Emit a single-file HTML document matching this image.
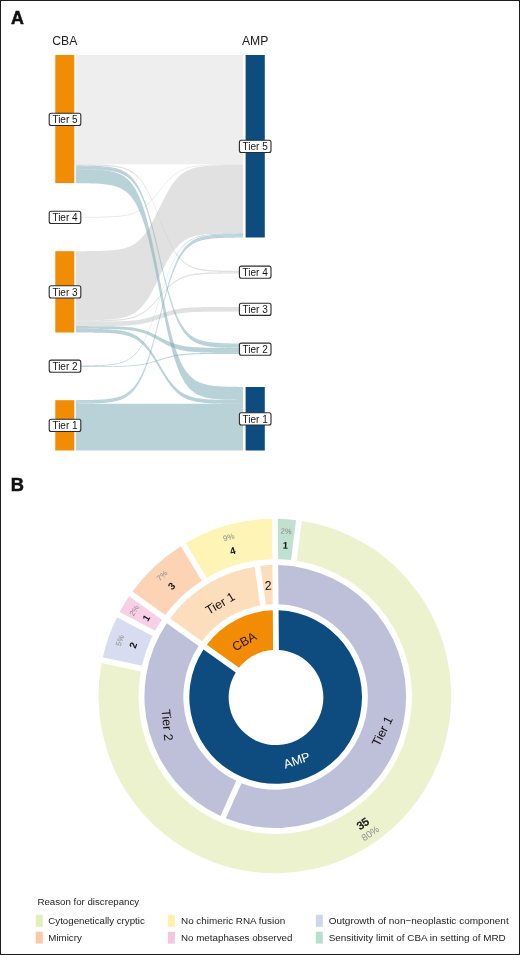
<!DOCTYPE html>
<html lang="en"><head><meta charset="utf-8"><title>Figure</title>
<style>
html,body{margin:0;padding:0;background:#fff;}
body{width:520px;height:955px;overflow:hidden;position:relative;font-family:"Liberation Sans", sans-serif;}
#frame{position:absolute;left:0;top:0;width:518px;height:953px;border:1px solid #1c1c1c;}
svg{position:absolute;left:0;top:0;display:block;}
</style></head><body>
<svg width="520" height="955" viewBox="0 0 520 955" font-family='"Liberation Sans", sans-serif'>
<g id="alluvial">
<path d="M75.80 55.00 L77.68 55.00 L79.56 55.00 L81.44 55.00 L83.31 55.00 L85.19 55.00 L87.07 55.00 L88.95 55.00 L90.83 55.00 L92.71 55.00 L94.59 55.00 L96.47 55.00 L98.34 55.00 L100.22 55.00 L102.10 55.00 L103.98 55.00 L105.86 55.00 L107.74 55.00 L109.62 55.00 L111.49 55.00 L113.37 55.00 L115.25 55.00 L117.13 55.00 L119.01 55.00 L120.89 55.00 L122.77 55.00 L124.64 55.00 L126.52 55.00 L128.40 55.00 L130.28 55.00 L132.16 55.00 L134.04 55.00 L135.92 55.00 L137.80 55.00 L139.67 55.00 L141.55 55.00 L143.43 55.00 L145.31 55.00 L147.19 55.00 L149.07 55.00 L150.95 55.00 L152.82 55.00 L154.70 55.00 L156.58 55.00 L158.46 55.00 L160.34 55.00 L162.22 55.00 L164.10 55.00 L165.98 55.00 L167.85 55.00 L169.73 55.00 L171.61 55.00 L173.49 55.00 L175.37 55.00 L177.25 55.00 L179.13 55.00 L181.00 55.00 L182.88 55.00 L184.76 55.00 L186.64 55.00 L188.52 55.00 L190.40 55.00 L192.28 55.00 L194.16 55.00 L196.03 55.00 L197.91 55.00 L199.79 55.00 L201.67 55.00 L203.55 55.00 L205.43 55.00 L207.31 55.00 L209.18 55.00 L211.06 55.00 L212.94 55.00 L214.82 55.00 L216.70 55.00 L218.58 55.00 L220.46 55.00 L222.33 55.00 L224.21 55.00 L226.09 55.00 L227.97 55.00 L229.85 55.00 L231.73 55.00 L233.61 55.00 L235.49 55.00 L237.36 55.00 L239.24 55.00 L241.12 55.00 L243.00 55.00 L243.00 164.20 L241.12 164.20 L239.24 164.20 L237.36 164.20 L235.49 164.20 L233.61 164.20 L231.73 164.20 L229.85 164.20 L227.97 164.20 L226.09 164.20 L224.21 164.20 L222.33 164.20 L220.46 164.20 L218.58 164.20 L216.70 164.20 L214.82 164.20 L212.94 164.20 L211.06 164.20 L209.18 164.20 L207.31 164.20 L205.43 164.20 L203.55 164.20 L201.67 164.20 L199.79 164.20 L197.91 164.20 L196.03 164.20 L194.16 164.20 L192.28 164.20 L190.40 164.20 L188.52 164.20 L186.64 164.20 L184.76 164.20 L182.88 164.20 L181.00 164.20 L179.13 164.20 L177.25 164.20 L175.37 164.20 L173.49 164.20 L171.61 164.20 L169.73 164.20 L167.85 164.20 L165.98 164.20 L164.10 164.20 L162.22 164.20 L160.34 164.20 L158.46 164.20 L156.58 164.20 L154.70 164.20 L152.82 164.20 L150.95 164.20 L149.07 164.20 L147.19 164.20 L145.31 164.20 L143.43 164.20 L141.55 164.20 L139.67 164.20 L137.80 164.20 L135.92 164.20 L134.04 164.20 L132.16 164.20 L130.28 164.20 L128.40 164.20 L126.52 164.20 L124.64 164.20 L122.77 164.20 L120.89 164.20 L119.01 164.20 L117.13 164.20 L115.25 164.20 L113.37 164.20 L111.49 164.20 L109.62 164.20 L107.74 164.20 L105.86 164.20 L103.98 164.20 L102.10 164.20 L100.22 164.20 L98.34 164.20 L96.47 164.20 L94.59 164.20 L92.71 164.20 L90.83 164.20 L88.95 164.20 L87.07 164.20 L85.19 164.20 L83.31 164.20 L81.44 164.20 L79.56 164.20 L77.68 164.20 L75.80 164.20Z" fill="rgba(200,198,200,0.29)"/>
<path d="M75.80 251.17 L77.68 251.17 L79.56 251.16 L81.44 251.15 L83.31 251.14 L85.19 251.13 L87.07 251.11 L88.95 251.10 L90.83 251.08 L92.71 251.05 L94.59 251.03 L96.47 250.99 L98.34 250.95 L100.22 250.90 L102.10 250.84 L103.98 250.77 L105.86 250.69 L107.74 250.59 L109.62 250.47 L111.49 250.33 L113.37 250.16 L115.25 249.96 L117.13 249.71 L119.01 249.43 L120.89 249.09 L122.77 248.68 L124.64 248.21 L126.52 247.64 L128.40 246.97 L130.28 246.19 L132.16 245.27 L134.04 244.20 L135.92 242.95 L137.80 241.51 L139.67 239.85 L141.55 237.96 L143.43 235.82 L145.31 233.41 L147.19 230.74 L149.07 227.80 L150.95 224.61 L152.82 221.19 L154.70 217.59 L156.58 213.83 L158.46 209.99 L160.34 206.11 L162.22 202.27 L164.10 198.51 L165.98 194.91 L167.85 191.49 L169.73 188.30 L171.61 185.36 L173.49 182.69 L175.37 180.28 L177.25 178.14 L179.13 176.25 L181.00 174.59 L182.88 173.15 L184.76 171.90 L186.64 170.83 L188.52 169.91 L190.40 169.13 L192.28 168.46 L194.16 167.89 L196.03 167.42 L197.91 167.01 L199.79 166.67 L201.67 166.39 L203.55 166.14 L205.43 165.94 L207.31 165.77 L209.18 165.63 L211.06 165.51 L212.94 165.41 L214.82 165.33 L216.70 165.26 L218.58 165.20 L220.46 165.15 L222.33 165.11 L224.21 165.07 L226.09 165.05 L227.97 165.02 L229.85 165.00 L231.73 164.99 L233.61 164.97 L235.49 164.96 L237.36 164.95 L239.24 164.94 L241.12 164.93 L243.00 164.93 L243.00 233.33 L241.12 233.33 L239.24 233.34 L237.36 233.35 L235.49 233.36 L233.61 233.37 L231.73 233.39 L229.85 233.40 L227.97 233.42 L226.09 233.45 L224.21 233.48 L222.33 233.51 L220.46 233.55 L218.58 233.60 L216.70 233.66 L214.82 233.73 L212.94 233.81 L211.06 233.92 L209.18 234.04 L207.31 234.18 L205.43 234.35 L203.55 234.55 L201.67 234.80 L199.79 235.09 L197.91 235.43 L196.03 235.84 L194.16 236.32 L192.28 236.89 L190.40 237.56 L188.52 238.35 L186.64 239.28 L184.76 240.36 L182.88 241.62 L181.00 243.07 L179.13 244.74 L177.25 246.65 L175.37 248.81 L173.49 251.23 L171.61 253.93 L169.73 256.89 L167.85 260.11 L165.98 263.55 L164.10 267.19 L162.22 270.97 L160.34 274.85 L158.46 278.75 L156.58 282.63 L154.70 286.41 L152.82 290.05 L150.95 293.49 L149.07 296.71 L147.19 299.67 L145.31 302.37 L143.43 304.79 L141.55 306.95 L139.67 308.86 L137.80 310.53 L135.92 311.98 L134.04 313.24 L132.16 314.32 L130.28 315.25 L128.40 316.04 L126.52 316.71 L124.64 317.28 L122.77 317.76 L120.89 318.17 L119.01 318.51 L117.13 318.80 L115.25 319.05 L113.37 319.25 L111.49 319.42 L109.62 319.56 L107.74 319.68 L105.86 319.79 L103.98 319.87 L102.10 319.94 L100.22 320.00 L98.34 320.05 L96.47 320.09 L94.59 320.12 L92.71 320.15 L90.83 320.18 L88.95 320.20 L87.07 320.21 L85.19 320.23 L83.31 320.24 L81.44 320.25 L79.56 320.26 L77.68 320.27 L75.80 320.27Z" fill="rgba(200,198,200,0.53)"/>
<path d="M75.80 216.78 L77.68 216.78 L79.56 216.77 L81.44 216.77 L83.31 216.76 L85.19 216.76 L87.07 216.75 L88.95 216.74 L90.83 216.73 L92.71 216.71 L94.59 216.69 L96.47 216.67 L98.34 216.65 L100.22 216.62 L102.10 216.58 L103.98 216.54 L105.86 216.49 L107.74 216.43 L109.62 216.36 L111.49 216.27 L113.37 216.16 L115.25 216.04 L117.13 215.89 L119.01 215.72 L120.89 215.51 L122.77 215.27 L124.64 214.98 L126.52 214.63 L128.40 214.22 L130.28 213.75 L132.16 213.19 L134.04 212.53 L135.92 211.77 L137.80 210.89 L139.67 209.88 L141.55 208.73 L143.43 207.42 L145.31 205.96 L147.19 204.33 L149.07 202.54 L150.95 200.59 L152.82 198.51 L154.70 196.31 L156.58 194.02 L158.46 191.68 L160.34 189.32 L162.22 186.98 L164.10 184.69 L165.98 182.49 L167.85 180.41 L169.73 178.46 L171.61 176.67 L173.49 175.04 L175.37 173.58 L177.25 172.27 L179.13 171.12 L181.00 170.11 L182.88 169.23 L184.76 168.47 L186.64 167.81 L188.52 167.25 L190.40 166.78 L192.28 166.37 L194.16 166.02 L196.03 165.73 L197.91 165.49 L199.79 165.28 L201.67 165.11 L203.55 164.96 L205.43 164.84 L207.31 164.73 L209.18 164.64 L211.06 164.57 L212.94 164.51 L214.82 164.46 L216.70 164.42 L218.58 164.38 L220.46 164.35 L222.33 164.33 L224.21 164.31 L226.09 164.29 L227.97 164.27 L229.85 164.26 L231.73 164.25 L233.61 164.24 L235.49 164.24 L237.36 164.23 L239.24 164.23 L241.12 164.22 L243.00 164.22 L243.00 164.92 L241.12 164.92 L239.24 164.93 L237.36 164.93 L235.49 164.94 L233.61 164.94 L231.73 164.95 L229.85 164.96 L227.97 164.97 L226.09 164.99 L224.21 165.01 L222.33 165.03 L220.46 165.05 L218.58 165.08 L216.70 165.12 L214.82 165.16 L212.94 165.21 L211.06 165.27 L209.18 165.35 L207.31 165.43 L205.43 165.54 L203.55 165.66 L201.67 165.81 L199.79 165.99 L197.91 166.19 L196.03 166.44 L194.16 166.74 L192.28 167.08 L190.40 167.49 L188.52 167.97 L186.64 168.53 L184.76 169.19 L182.88 169.96 L181.00 170.84 L179.13 171.86 L177.25 173.02 L175.37 174.33 L173.49 175.81 L171.61 177.44 L169.73 179.24 L167.85 181.20 L165.98 183.29 L164.10 185.50 L162.22 187.81 L160.34 190.16 L158.46 192.54 L156.58 194.89 L154.70 197.20 L152.82 199.41 L150.95 201.50 L149.07 203.46 L147.19 205.26 L145.31 206.89 L143.43 208.37 L141.55 209.68 L139.67 210.84 L137.80 211.86 L135.92 212.74 L134.04 213.51 L132.16 214.17 L130.28 214.73 L128.40 215.21 L126.52 215.62 L124.64 215.96 L122.77 216.26 L120.89 216.51 L119.01 216.71 L117.13 216.89 L115.25 217.04 L113.37 217.16 L111.49 217.27 L109.62 217.35 L107.74 217.43 L105.86 217.49 L103.98 217.54 L102.10 217.58 L100.22 217.62 L98.34 217.65 L96.47 217.67 L94.59 217.69 L92.71 217.71 L90.83 217.73 L88.95 217.74 L87.07 217.75 L85.19 217.76 L83.31 217.76 L81.44 217.77 L79.56 217.77 L77.68 217.78 L75.80 217.78Z" fill="rgba(200,198,200,0.40)"/>
<path d="M75.80 164.24 L77.68 164.24 L79.56 164.25 L81.44 164.26 L83.31 164.27 L85.19 164.29 L87.07 164.31 L88.95 164.33 L90.83 164.35 L92.71 164.38 L94.59 164.42 L96.47 164.46 L98.34 164.51 L100.22 164.57 L102.10 164.64 L103.98 164.73 L105.86 164.83 L107.74 164.96 L109.62 165.10 L111.49 165.28 L113.37 165.49 L115.25 165.74 L117.13 166.04 L119.01 166.39 L120.89 166.81 L122.77 167.31 L124.64 167.90 L126.52 168.60 L128.40 169.43 L130.28 170.39 L132.16 171.53 L134.04 172.86 L135.92 174.40 L137.80 176.18 L139.67 178.23 L141.55 180.57 L143.43 183.22 L145.31 186.20 L147.19 189.50 L149.07 193.13 L150.95 197.07 L152.82 201.30 L154.70 205.76 L156.58 210.40 L158.46 215.15 L160.34 219.95 L162.22 224.70 L164.10 229.34 L165.98 233.80 L167.85 238.03 L169.73 241.97 L171.61 245.60 L173.49 248.90 L175.37 251.88 L177.25 254.53 L179.13 256.87 L181.00 258.92 L182.88 260.70 L184.76 262.24 L186.64 263.57 L188.52 264.71 L190.40 265.67 L192.28 266.50 L194.16 267.20 L196.03 267.79 L197.91 268.29 L199.79 268.71 L201.67 269.06 L203.55 269.36 L205.43 269.61 L207.31 269.82 L209.18 270.00 L211.06 270.14 L212.94 270.27 L214.82 270.37 L216.70 270.46 L218.58 270.53 L220.46 270.59 L222.33 270.64 L224.21 270.68 L226.09 270.72 L227.97 270.75 L229.85 270.77 L231.73 270.79 L233.61 270.81 L235.49 270.83 L237.36 270.84 L239.24 270.85 L241.12 270.86 L243.00 270.86 L243.00 272.16 L241.12 272.16 L239.24 272.15 L237.36 272.14 L235.49 272.13 L233.61 272.11 L231.73 272.09 L229.85 272.07 L227.97 272.05 L226.09 272.02 L224.21 271.98 L222.33 271.94 L220.46 271.89 L218.58 271.83 L216.70 271.76 L214.82 271.67 L212.94 271.57 L211.06 271.44 L209.18 271.30 L207.31 271.12 L205.43 270.91 L203.55 270.66 L201.67 270.36 L199.79 270.01 L197.91 269.59 L196.03 269.09 L194.16 268.50 L192.28 267.80 L190.40 266.97 L188.52 266.01 L186.64 264.87 L184.76 263.54 L182.88 262.00 L181.00 260.22 L179.13 258.17 L177.25 255.83 L175.37 253.18 L173.49 250.20 L171.61 246.90 L169.73 243.27 L167.85 239.33 L165.98 235.10 L164.10 230.64 L162.22 226.00 L160.34 221.25 L158.46 216.45 L156.58 211.70 L154.70 207.06 L152.82 202.60 L150.95 198.37 L149.07 194.43 L147.19 190.80 L145.31 187.50 L143.43 184.52 L141.55 181.87 L139.67 179.53 L137.80 177.48 L135.92 175.70 L134.04 174.16 L132.16 172.83 L130.28 171.69 L128.40 170.73 L126.52 169.90 L124.64 169.20 L122.77 168.61 L120.89 168.11 L119.01 167.69 L117.13 167.34 L115.25 167.04 L113.37 166.79 L111.49 166.58 L109.62 166.40 L107.74 166.26 L105.86 166.13 L103.98 166.03 L102.10 165.94 L100.22 165.87 L98.34 165.81 L96.47 165.76 L94.59 165.72 L92.71 165.68 L90.83 165.65 L88.95 165.63 L87.07 165.61 L85.19 165.59 L83.31 165.57 L81.44 165.56 L79.56 165.55 L77.68 165.54 L75.80 165.54Z" fill="rgba(200,198,200,0.53)"/>
<path d="M75.80 320.28 L77.68 320.28 L79.56 320.28 L81.44 320.27 L83.31 320.27 L85.19 320.26 L87.07 320.25 L88.95 320.24 L90.83 320.23 L92.71 320.22 L94.59 320.20 L96.47 320.18 L98.34 320.16 L100.22 320.13 L102.10 320.10 L103.98 320.06 L105.86 320.02 L107.74 319.96 L109.62 319.89 L111.49 319.81 L113.37 319.72 L115.25 319.61 L117.13 319.47 L119.01 319.31 L120.89 319.12 L122.77 318.90 L124.64 318.63 L126.52 318.32 L128.40 317.94 L130.28 317.51 L132.16 317.00 L134.04 316.40 L135.92 315.70 L137.80 314.90 L139.67 313.97 L141.55 312.92 L143.43 311.73 L145.31 310.38 L147.19 308.89 L149.07 307.26 L150.95 305.48 L152.82 303.58 L154.70 301.57 L156.58 299.47 L158.46 297.33 L160.34 295.17 L162.22 293.03 L164.10 290.93 L165.98 288.92 L167.85 287.02 L169.73 285.24 L171.61 283.61 L173.49 282.12 L175.37 280.77 L177.25 279.58 L179.13 278.53 L181.00 277.60 L182.88 276.80 L184.76 276.10 L186.64 275.50 L188.52 274.99 L190.40 274.56 L192.28 274.18 L194.16 273.87 L196.03 273.60 L197.91 273.38 L199.79 273.19 L201.67 273.03 L203.55 272.89 L205.43 272.78 L207.31 272.69 L209.18 272.61 L211.06 272.54 L212.94 272.48 L214.82 272.44 L216.70 272.40 L218.58 272.37 L220.46 272.34 L222.33 272.32 L224.21 272.30 L226.09 272.28 L227.97 272.27 L229.85 272.26 L231.73 272.25 L233.61 272.24 L235.49 272.23 L237.36 272.23 L239.24 272.22 L241.12 272.22 L243.00 272.22 L243.00 273.52 L241.12 273.52 L239.24 273.52 L237.36 273.53 L235.49 273.53 L233.61 273.54 L231.73 273.55 L229.85 273.56 L227.97 273.57 L226.09 273.58 L224.21 273.60 L222.33 273.62 L220.46 273.64 L218.58 273.67 L216.70 273.70 L214.82 273.74 L212.94 273.78 L211.06 273.84 L209.18 273.91 L207.31 273.99 L205.43 274.08 L203.55 274.19 L201.67 274.33 L199.79 274.49 L197.91 274.68 L196.03 274.90 L194.16 275.17 L192.28 275.48 L190.40 275.86 L188.52 276.29 L186.64 276.80 L184.76 277.40 L182.88 278.10 L181.00 278.90 L179.13 279.83 L177.25 280.88 L175.37 282.07 L173.49 283.42 L171.61 284.91 L169.73 286.54 L167.85 288.32 L165.98 290.22 L164.10 292.23 L162.22 294.33 L160.34 296.47 L158.46 298.63 L156.58 300.77 L154.70 302.87 L152.82 304.88 L150.95 306.78 L149.07 308.56 L147.19 310.19 L145.31 311.68 L143.43 313.03 L141.55 314.22 L139.67 315.27 L137.80 316.20 L135.92 317.00 L134.04 317.70 L132.16 318.30 L130.28 318.81 L128.40 319.24 L126.52 319.62 L124.64 319.93 L122.77 320.20 L120.89 320.42 L119.01 320.61 L117.13 320.77 L115.25 320.91 L113.37 321.02 L111.49 321.11 L109.62 321.19 L107.74 321.26 L105.86 321.32 L103.98 321.36 L102.10 321.40 L100.22 321.43 L98.34 321.46 L96.47 321.48 L94.59 321.50 L92.71 321.52 L90.83 321.53 L88.95 321.54 L87.07 321.55 L85.19 321.56 L83.31 321.57 L81.44 321.57 L79.56 321.58 L77.68 321.58 L75.80 321.58Z" fill="rgba(200,198,200,0.53)"/>
<path d="M75.80 321.60 L77.68 321.59 L79.56 321.59 L81.44 321.59 L83.31 321.59 L85.19 321.59 L87.07 321.59 L88.95 321.58 L90.83 321.58 L92.71 321.58 L94.59 321.57 L96.47 321.56 L98.34 321.56 L100.22 321.55 L102.10 321.54 L103.98 321.53 L105.86 321.51 L107.74 321.50 L109.62 321.48 L111.49 321.45 L113.37 321.42 L115.25 321.39 L117.13 321.35 L119.01 321.30 L120.89 321.24 L122.77 321.17 L124.64 321.09 L126.52 320.99 L128.40 320.88 L130.28 320.75 L132.16 320.59 L134.04 320.41 L135.92 320.19 L137.80 319.95 L139.67 319.67 L141.55 319.34 L143.43 318.98 L145.31 318.57 L147.19 318.11 L149.07 317.61 L150.95 317.07 L152.82 316.49 L154.70 315.87 L156.58 315.24 L158.46 314.58 L160.34 313.92 L162.22 313.26 L164.10 312.63 L165.98 312.01 L167.85 311.43 L169.73 310.89 L171.61 310.39 L173.49 309.93 L175.37 309.52 L177.25 309.16 L179.13 308.83 L181.00 308.55 L182.88 308.31 L184.76 308.09 L186.64 307.91 L188.52 307.75 L190.40 307.62 L192.28 307.51 L194.16 307.41 L196.03 307.33 L197.91 307.26 L199.79 307.20 L201.67 307.15 L203.55 307.11 L205.43 307.08 L207.31 307.05 L209.18 307.02 L211.06 307.00 L212.94 306.99 L214.82 306.97 L216.70 306.96 L218.58 306.95 L220.46 306.94 L222.33 306.94 L224.21 306.93 L226.09 306.92 L227.97 306.92 L229.85 306.92 L231.73 306.91 L233.61 306.91 L235.49 306.91 L237.36 306.91 L239.24 306.91 L241.12 306.91 L243.00 306.90 L243.00 311.60 L241.12 311.61 L239.24 311.61 L237.36 311.61 L235.49 311.61 L233.61 311.61 L231.73 311.61 L229.85 311.62 L227.97 311.62 L226.09 311.62 L224.21 311.63 L222.33 311.64 L220.46 311.64 L218.58 311.65 L216.70 311.66 L214.82 311.67 L212.94 311.69 L211.06 311.70 L209.18 311.72 L207.31 311.75 L205.43 311.78 L203.55 311.81 L201.67 311.85 L199.79 311.90 L197.91 311.95 L196.03 312.02 L194.16 312.10 L192.28 312.20 L190.40 312.31 L188.52 312.44 L186.64 312.60 L184.76 312.78 L182.88 312.99 L181.00 313.23 L179.13 313.51 L177.25 313.82 L175.37 314.18 L173.49 314.59 L171.61 315.04 L169.73 315.53 L167.85 316.07 L165.98 316.64 L164.10 317.25 L162.22 317.88 L160.34 318.52 L158.46 319.18 L156.58 319.82 L154.70 320.45 L152.82 321.06 L150.95 321.63 L149.07 322.17 L147.19 322.66 L145.31 323.11 L143.43 323.52 L141.55 323.88 L139.67 324.19 L137.80 324.47 L135.92 324.71 L134.04 324.92 L132.16 325.10 L130.28 325.26 L128.40 325.39 L126.52 325.50 L124.64 325.60 L122.77 325.68 L120.89 325.75 L119.01 325.80 L117.13 325.85 L115.25 325.89 L113.37 325.92 L111.49 325.95 L109.62 325.98 L107.74 326.00 L105.86 326.01 L103.98 326.03 L102.10 326.04 L100.22 326.05 L98.34 326.06 L96.47 326.06 L94.59 326.07 L92.71 326.08 L90.83 326.08 L88.95 326.08 L87.07 326.09 L85.19 326.09 L83.31 326.09 L81.44 326.09 L79.56 326.09 L77.68 326.09 L75.80 326.10Z" fill="rgba(200,198,200,0.53)"/>
<path d="M75.80 165.56 L77.68 165.57 L79.56 165.59 L81.44 165.60 L83.31 165.62 L85.19 165.65 L87.07 165.68 L88.95 165.71 L90.83 165.75 L92.71 165.80 L94.59 165.86 L96.47 165.93 L98.34 166.02 L100.22 166.12 L102.10 166.24 L103.98 166.38 L105.86 166.55 L107.74 166.76 L109.62 167.01 L111.49 167.30 L113.37 167.65 L115.25 168.07 L117.13 168.56 L119.01 169.16 L120.89 169.86 L122.77 170.69 L124.64 171.68 L126.52 172.85 L128.40 174.22 L130.28 175.84 L132.16 177.74 L134.04 179.95 L135.92 182.52 L137.80 185.50 L139.67 188.92 L141.55 192.83 L143.43 197.25 L145.31 202.21 L147.19 207.73 L149.07 213.79 L150.95 220.37 L152.82 227.42 L154.70 234.87 L156.58 242.62 L158.46 250.55 L160.34 258.55 L162.22 266.48 L164.10 274.23 L165.98 281.68 L167.85 288.73 L169.73 295.31 L171.61 301.37 L173.49 306.89 L175.37 311.85 L177.25 316.27 L179.13 320.18 L181.00 323.60 L182.88 326.58 L184.76 329.15 L186.64 331.36 L188.52 333.26 L190.40 334.88 L192.28 336.25 L194.16 337.42 L196.03 338.41 L197.91 339.24 L199.79 339.94 L201.67 340.54 L203.55 341.03 L205.43 341.45 L207.31 341.80 L209.18 342.09 L211.06 342.34 L212.94 342.55 L214.82 342.72 L216.70 342.86 L218.58 342.98 L220.46 343.08 L222.33 343.17 L224.21 343.24 L226.09 343.30 L227.97 343.35 L229.85 343.39 L231.73 343.42 L233.61 343.45 L235.49 343.48 L237.36 343.50 L239.24 343.51 L241.12 343.53 L243.00 343.54 L243.00 344.84 L241.12 344.83 L239.24 344.81 L237.36 344.80 L235.49 344.78 L233.61 344.75 L231.73 344.72 L229.85 344.69 L227.97 344.65 L226.09 344.60 L224.21 344.54 L222.33 344.47 L220.46 344.38 L218.58 344.28 L216.70 344.16 L214.82 344.02 L212.94 343.84 L211.06 343.64 L209.18 343.39 L207.31 343.10 L205.43 342.75 L203.55 342.33 L201.67 341.83 L199.79 341.24 L197.91 340.54 L196.03 339.70 L194.16 338.71 L192.28 337.55 L190.40 336.17 L188.52 334.55 L186.64 332.65 L184.76 330.43 L182.88 327.86 L181.00 324.88 L179.13 321.45 L177.25 317.54 L175.37 313.11 L173.49 308.14 L171.61 302.62 L169.73 296.55 L167.85 289.96 L165.98 282.91 L164.10 275.45 L162.22 267.70 L160.34 259.75 L158.46 251.75 L156.58 243.80 L154.70 236.05 L152.82 228.59 L150.95 221.54 L149.07 214.95 L147.19 208.88 L145.31 203.36 L143.43 198.39 L141.55 193.96 L139.67 190.05 L137.80 186.62 L135.92 183.64 L134.04 181.07 L132.16 178.85 L130.28 176.95 L128.40 175.33 L126.52 173.95 L124.64 172.79 L122.77 171.80 L120.89 170.96 L119.01 170.26 L117.13 169.67 L115.25 169.17 L113.37 168.75 L111.49 168.40 L109.62 168.11 L107.74 167.86 L105.86 167.66 L103.98 167.48 L102.10 167.34 L100.22 167.22 L98.34 167.12 L96.47 167.03 L94.59 166.96 L92.71 166.90 L90.83 166.85 L88.95 166.81 L87.07 166.78 L85.19 166.75 L83.31 166.72 L81.44 166.70 L79.56 166.69 L77.68 166.67 L75.80 166.66Z" fill="rgba(115,165,175,0.50)"/>
<path d="M75.80 166.66 L77.68 166.67 L79.56 166.69 L81.44 166.70 L83.31 166.72 L85.19 166.75 L87.07 166.78 L88.95 166.81 L90.83 166.85 L92.71 166.90 L94.59 166.96 L96.47 167.03 L98.34 167.12 L100.22 167.22 L102.10 167.34 L103.98 167.48 L105.86 167.66 L107.74 167.86 L109.62 168.11 L111.49 168.40 L113.37 168.75 L115.25 169.17 L117.13 169.67 L119.01 170.26 L120.89 170.96 L122.77 171.80 L124.64 172.79 L126.52 173.95 L128.40 175.33 L130.28 176.95 L132.16 178.85 L134.04 181.07 L135.92 183.64 L137.80 186.62 L139.67 190.05 L141.55 193.96 L143.43 198.39 L145.31 203.36 L147.19 208.88 L149.07 214.95 L150.95 221.54 L152.82 228.59 L154.70 236.05 L156.58 243.80 L158.46 251.75 L160.34 259.75 L162.22 267.70 L164.10 275.45 L165.98 282.91 L167.85 289.96 L169.73 296.55 L171.61 302.62 L173.49 308.14 L175.37 313.11 L177.25 317.54 L179.13 321.45 L181.00 324.88 L182.88 327.86 L184.76 330.43 L186.64 332.65 L188.52 334.55 L190.40 336.17 L192.28 337.55 L194.16 338.71 L196.03 339.70 L197.91 340.54 L199.79 341.24 L201.67 341.83 L203.55 342.33 L205.43 342.75 L207.31 343.10 L209.18 343.39 L211.06 343.64 L212.94 343.84 L214.82 344.02 L216.70 344.16 L218.58 344.28 L220.46 344.38 L222.33 344.47 L224.21 344.54 L226.09 344.60 L227.97 344.65 L229.85 344.69 L231.73 344.72 L233.61 344.75 L235.49 344.78 L237.36 344.80 L239.24 344.81 L241.12 344.83 L243.00 344.84 L243.00 347.84 L241.12 347.83 L239.24 347.81 L237.36 347.80 L235.49 347.78 L233.61 347.75 L231.73 347.72 L229.85 347.69 L227.97 347.65 L226.09 347.60 L224.21 347.54 L222.33 347.47 L220.46 347.38 L218.58 347.28 L216.70 347.16 L214.82 347.02 L212.94 346.84 L211.06 346.64 L209.18 346.39 L207.31 346.09 L205.43 345.74 L203.55 345.32 L201.67 344.82 L199.79 344.23 L197.91 343.53 L196.03 342.69 L194.16 341.70 L192.28 340.53 L190.40 339.15 L188.52 337.53 L186.64 335.62 L184.76 333.40 L182.88 330.82 L181.00 327.83 L179.13 324.40 L177.25 320.48 L175.37 316.04 L173.49 311.06 L171.61 305.53 L169.73 299.44 L167.85 292.84 L165.98 285.77 L164.10 278.30 L162.22 270.52 L160.34 262.56 L158.46 254.54 L156.58 246.58 L154.70 238.80 L152.82 231.33 L150.95 224.26 L149.07 217.66 L147.19 211.57 L145.31 206.04 L143.43 201.06 L141.55 196.62 L139.67 192.70 L137.80 189.27 L135.92 186.28 L134.04 183.70 L132.16 181.48 L130.28 179.57 L128.40 177.95 L126.52 176.57 L124.64 175.40 L122.77 174.41 L120.89 173.57 L119.01 172.87 L117.13 172.28 L115.25 171.78 L113.37 171.36 L111.49 171.01 L109.62 170.71 L107.74 170.46 L105.86 170.26 L103.98 170.08 L102.10 169.94 L100.22 169.82 L98.34 169.72 L96.47 169.63 L94.59 169.56 L92.71 169.50 L90.83 169.45 L88.95 169.41 L87.07 169.38 L85.19 169.35 L83.31 169.32 L81.44 169.30 L79.56 169.29 L77.68 169.27 L75.80 169.26Z" fill="rgba(115,165,175,0.50)"/>
<path d="M75.80 169.27 L77.68 169.29 L79.56 169.30 L81.44 169.33 L83.31 169.35 L85.19 169.38 L87.07 169.41 L88.95 169.46 L90.83 169.51 L92.71 169.57 L94.59 169.64 L96.47 169.73 L98.34 169.83 L100.22 169.95 L102.10 170.10 L103.98 170.28 L105.86 170.49 L107.74 170.74 L109.62 171.04 L111.49 171.40 L113.37 171.83 L115.25 172.34 L117.13 172.95 L119.01 173.67 L120.89 174.53 L122.77 175.55 L124.64 176.76 L126.52 178.18 L128.40 179.87 L130.28 181.84 L132.16 184.16 L134.04 186.87 L135.92 190.02 L137.80 193.66 L139.67 197.84 L141.55 202.62 L143.43 208.03 L145.31 214.10 L147.19 220.84 L149.07 228.26 L150.95 236.31 L152.82 244.93 L154.70 254.03 L156.58 263.51 L158.46 273.21 L160.34 282.99 L162.22 292.69 L164.10 302.17 L165.98 311.27 L167.85 319.89 L169.73 327.94 L171.61 335.36 L173.49 342.10 L175.37 348.17 L177.25 353.58 L179.13 358.36 L181.00 362.54 L182.88 366.18 L184.76 369.33 L186.64 372.04 L188.52 374.36 L190.40 376.33 L192.28 378.02 L194.16 379.44 L196.03 380.65 L197.91 381.67 L199.79 382.53 L201.67 383.25 L203.55 383.86 L205.43 384.37 L207.31 384.80 L209.18 385.16 L211.06 385.46 L212.94 385.71 L214.82 385.92 L216.70 386.10 L218.58 386.25 L220.46 386.37 L222.33 386.47 L224.21 386.56 L226.09 386.63 L227.97 386.69 L229.85 386.74 L231.73 386.79 L233.61 386.82 L235.49 386.85 L237.36 386.87 L239.24 386.90 L241.12 386.91 L243.00 386.93 L243.00 399.93 L241.12 399.91 L239.24 399.90 L237.36 399.88 L235.49 399.85 L233.61 399.82 L231.73 399.79 L229.85 399.74 L227.97 399.69 L226.09 399.63 L224.21 399.56 L222.33 399.48 L220.46 399.37 L218.58 399.25 L216.70 399.10 L214.82 398.93 L212.94 398.72 L211.06 398.47 L209.18 398.17 L207.31 397.81 L205.43 397.38 L203.55 396.87 L201.67 396.27 L199.79 395.55 L197.91 394.69 L196.03 393.68 L194.16 392.47 L192.28 391.05 L190.40 389.38 L188.52 387.41 L186.64 385.10 L184.76 382.40 L182.88 379.27 L181.00 375.64 L179.13 371.47 L177.25 366.72 L175.37 361.33 L173.49 355.29 L171.61 348.57 L169.73 341.19 L167.85 333.17 L165.98 324.59 L164.10 315.52 L162.22 306.08 L160.34 296.42 L158.46 286.68 L156.58 277.02 L154.70 267.58 L152.82 258.51 L150.95 249.93 L149.07 241.91 L147.19 234.53 L145.31 227.81 L143.43 221.77 L141.55 216.38 L139.67 211.63 L137.80 207.46 L135.92 203.83 L134.04 200.70 L132.16 198.00 L130.28 195.69 L128.40 193.72 L126.52 192.05 L124.64 190.63 L122.77 189.42 L120.89 188.41 L119.01 187.55 L117.13 186.83 L115.25 186.23 L113.37 185.72 L111.49 185.29 L109.62 184.93 L107.74 184.63 L105.86 184.38 L103.98 184.17 L102.10 184.00 L100.22 183.85 L98.34 183.73 L96.47 183.62 L94.59 183.54 L92.71 183.47 L90.83 183.41 L88.95 183.36 L87.07 183.31 L85.19 183.28 L83.31 183.25 L81.44 183.22 L79.56 183.20 L77.68 183.19 L75.80 183.17Z" fill="rgba(115,165,175,0.50)"/>
<path d="M75.80 326.11 L77.68 326.11 L79.56 326.11 L81.44 326.11 L83.31 326.12 L85.19 326.12 L87.07 326.12 L88.95 326.13 L90.83 326.13 L92.71 326.14 L94.59 326.14 L96.47 326.15 L98.34 326.16 L100.22 326.18 L102.10 326.19 L103.98 326.21 L105.86 326.23 L107.74 326.25 L109.62 326.28 L111.49 326.32 L113.37 326.36 L115.25 326.41 L117.13 326.48 L119.01 326.55 L120.89 326.63 L122.77 326.74 L124.64 326.86 L126.52 327.00 L128.40 327.17 L130.28 327.37 L132.16 327.60 L134.04 327.87 L135.92 328.18 L137.80 328.55 L139.67 328.97 L141.55 329.45 L143.43 329.99 L145.31 330.59 L147.19 331.27 L149.07 332.01 L150.95 332.82 L152.82 333.68 L154.70 334.59 L156.58 335.54 L158.46 336.51 L160.34 337.49 L162.22 338.46 L164.10 339.41 L165.98 340.32 L167.85 341.18 L169.73 341.99 L171.61 342.73 L173.49 343.41 L175.37 344.01 L177.25 344.55 L179.13 345.03 L181.00 345.45 L182.88 345.82 L184.76 346.13 L186.64 346.40 L188.52 346.63 L190.40 346.83 L192.28 347.00 L194.16 347.14 L196.03 347.26 L197.91 347.37 L199.79 347.45 L201.67 347.52 L203.55 347.59 L205.43 347.64 L207.31 347.68 L209.18 347.72 L211.06 347.75 L212.94 347.77 L214.82 347.79 L216.70 347.81 L218.58 347.82 L220.46 347.84 L222.33 347.85 L224.21 347.86 L226.09 347.86 L227.97 347.87 L229.85 347.87 L231.73 347.88 L233.61 347.88 L235.49 347.88 L237.36 347.89 L239.24 347.89 L241.12 347.89 L243.00 347.89 L243.00 352.79 L241.12 352.79 L239.24 352.79 L237.36 352.79 L235.49 352.78 L233.61 352.78 L231.73 352.78 L229.85 352.77 L227.97 352.77 L226.09 352.76 L224.21 352.75 L222.33 352.74 L220.46 352.73 L218.58 352.72 L216.70 352.70 L214.82 352.68 L212.94 352.66 L211.06 352.63 L209.18 352.60 L207.31 352.56 L205.43 352.51 L203.55 352.45 L201.67 352.39 L199.79 352.31 L197.91 352.21 L196.03 352.10 L194.16 351.97 L192.28 351.81 L190.40 351.62 L188.52 351.41 L186.64 351.15 L184.76 350.85 L182.88 350.51 L181.00 350.10 L179.13 349.64 L177.25 349.12 L175.37 348.52 L173.49 347.85 L171.61 347.11 L169.73 346.29 L167.85 345.41 L165.98 344.46 L164.10 343.45 L162.22 342.41 L160.34 341.34 L158.46 340.26 L156.58 339.19 L154.70 338.15 L152.82 337.14 L150.95 336.19 L149.07 335.31 L147.19 334.49 L145.31 333.75 L143.43 333.08 L141.55 332.48 L139.67 331.96 L137.80 331.50 L135.92 331.09 L134.04 330.75 L132.16 330.45 L130.28 330.19 L128.40 329.98 L126.52 329.79 L124.64 329.63 L122.77 329.50 L120.89 329.39 L119.01 329.29 L117.13 329.21 L115.25 329.15 L113.37 329.09 L111.49 329.04 L109.62 329.00 L107.74 328.97 L105.86 328.94 L103.98 328.92 L102.10 328.90 L100.22 328.88 L98.34 328.87 L96.47 328.86 L94.59 328.85 L92.71 328.84 L90.83 328.83 L88.95 328.83 L87.07 328.82 L85.19 328.82 L83.31 328.82 L81.44 328.81 L79.56 328.81 L77.68 328.81 L75.80 328.81Z" fill="rgba(115,165,175,0.50)"/>
<path d="M75.80 328.82 L77.68 328.83 L79.56 328.83 L81.44 328.84 L83.31 328.85 L85.19 328.86 L87.07 328.87 L88.95 328.88 L90.83 328.90 L92.71 328.92 L94.59 328.94 L96.47 328.97 L98.34 329.01 L100.22 329.05 L102.10 329.09 L103.98 329.15 L105.86 329.22 L107.74 329.30 L109.62 329.40 L111.49 329.52 L113.37 329.66 L115.25 329.83 L117.13 330.03 L119.01 330.26 L120.89 330.54 L122.77 330.88 L124.64 331.27 L126.52 331.74 L128.40 332.29 L130.28 332.93 L132.16 333.69 L134.04 334.58 L135.92 335.61 L137.80 336.80 L139.67 338.16 L141.55 339.72 L143.43 341.49 L145.31 343.48 L147.19 345.68 L149.07 348.11 L150.95 350.74 L152.82 353.56 L154.70 356.53 L156.58 359.63 L158.46 362.80 L160.34 366.00 L162.22 369.17 L164.10 372.27 L165.98 375.24 L167.85 378.06 L169.73 380.69 L171.61 383.12 L173.49 385.32 L175.37 387.31 L177.25 389.08 L179.13 390.64 L181.00 392.00 L182.88 393.19 L184.76 394.22 L186.64 395.11 L188.52 395.87 L190.40 396.51 L192.28 397.06 L194.16 397.53 L196.03 397.92 L197.91 398.26 L199.79 398.54 L201.67 398.77 L203.55 398.97 L205.43 399.14 L207.31 399.28 L209.18 399.40 L211.06 399.50 L212.94 399.58 L214.82 399.65 L216.70 399.71 L218.58 399.75 L220.46 399.79 L222.33 399.83 L224.21 399.86 L226.09 399.88 L227.97 399.90 L229.85 399.92 L231.73 399.93 L233.61 399.94 L235.49 399.95 L237.36 399.96 L239.24 399.97 L241.12 399.97 L243.00 399.98 L243.00 403.78 L241.12 403.77 L239.24 403.77 L237.36 403.76 L235.49 403.75 L233.61 403.74 L231.73 403.73 L229.85 403.72 L227.97 403.70 L226.09 403.68 L224.21 403.66 L222.33 403.63 L220.46 403.59 L218.58 403.55 L216.70 403.50 L214.82 403.45 L212.94 403.38 L211.06 403.30 L209.18 403.20 L207.31 403.08 L205.43 402.94 L203.55 402.77 L201.67 402.57 L199.79 402.34 L197.91 402.06 L196.03 401.72 L194.16 401.33 L192.28 400.86 L190.40 400.31 L188.52 399.66 L186.64 398.90 L184.76 398.01 L182.88 396.98 L181.00 395.79 L179.13 394.42 L177.25 392.86 L175.37 391.09 L173.49 389.10 L171.61 386.89 L169.73 384.47 L167.85 381.83 L165.98 379.01 L164.10 376.03 L162.22 372.93 L160.34 369.75 L158.46 366.55 L156.58 363.37 L154.70 360.27 L152.82 357.29 L150.95 354.47 L149.07 351.83 L147.19 349.41 L145.31 347.20 L143.43 345.21 L141.55 343.44 L139.67 341.88 L137.80 340.51 L135.92 339.32 L134.04 338.29 L132.16 337.40 L130.28 336.64 L128.40 335.99 L126.52 335.44 L124.64 334.97 L122.77 334.58 L120.89 334.24 L119.01 333.96 L117.13 333.73 L115.25 333.53 L113.37 333.36 L111.49 333.22 L109.62 333.10 L107.74 333.00 L105.86 332.92 L103.98 332.85 L102.10 332.80 L100.22 332.75 L98.34 332.71 L96.47 332.67 L94.59 332.64 L92.71 332.62 L90.83 332.60 L88.95 332.58 L87.07 332.57 L85.19 332.56 L83.31 332.55 L81.44 332.54 L79.56 332.53 L77.68 332.53 L75.80 332.52Z" fill="rgba(115,165,175,0.50)"/>
<path d="M75.80 365.56 L77.68 365.55 L79.56 365.54 L81.44 365.52 L83.31 365.51 L85.19 365.49 L87.07 365.47 L88.95 365.44 L90.83 365.41 L92.71 365.38 L94.59 365.33 L96.47 365.28 L98.34 365.22 L100.22 365.14 L102.10 365.05 L103.98 364.95 L105.86 364.82 L107.74 364.66 L109.62 364.48 L111.49 364.26 L113.37 364.00 L115.25 363.69 L117.13 363.32 L119.01 362.88 L120.89 362.36 L122.77 361.74 L124.64 361.01 L126.52 360.14 L128.40 359.12 L130.28 357.92 L132.16 356.51 L134.04 354.87 L135.92 352.95 L137.80 350.74 L139.67 348.20 L141.55 345.30 L143.43 342.01 L145.31 338.33 L147.19 334.23 L149.07 329.73 L150.95 324.84 L152.82 319.60 L154.70 314.07 L156.58 308.32 L158.46 302.42 L160.34 296.48 L162.22 290.58 L164.10 284.83 L165.98 279.30 L167.85 274.06 L169.73 269.17 L171.61 264.67 L173.49 260.57 L175.37 256.89 L177.25 253.60 L179.13 250.70 L181.00 248.16 L182.88 245.95 L184.76 244.03 L186.64 242.39 L188.52 240.98 L190.40 239.78 L192.28 238.76 L194.16 237.89 L196.03 237.16 L197.91 236.54 L199.79 236.02 L201.67 235.58 L203.55 235.21 L205.43 234.90 L207.31 234.64 L209.18 234.42 L211.06 234.24 L212.94 234.08 L214.82 233.95 L216.70 233.85 L218.58 233.76 L220.46 233.68 L222.33 233.62 L224.21 233.57 L226.09 233.52 L227.97 233.49 L229.85 233.46 L231.73 233.43 L233.61 233.41 L235.49 233.39 L237.36 233.38 L239.24 233.36 L241.12 233.35 L243.00 233.34 L243.00 234.04 L241.12 234.05 L239.24 234.06 L237.36 234.08 L235.49 234.09 L233.61 234.11 L231.73 234.13 L229.85 234.16 L227.97 234.19 L226.09 234.22 L224.21 234.27 L222.33 234.32 L220.46 234.38 L218.58 234.46 L216.70 234.55 L214.82 234.65 L212.94 234.78 L211.06 234.94 L209.18 235.12 L207.31 235.34 L205.43 235.60 L203.55 235.91 L201.67 236.28 L199.79 236.72 L197.91 237.24 L196.03 237.86 L194.16 238.59 L192.28 239.46 L190.40 240.48 L188.52 241.68 L186.64 243.09 L184.76 244.73 L182.88 246.65 L181.00 248.86 L179.13 251.40 L177.25 254.30 L175.37 257.59 L173.49 261.27 L171.61 265.37 L169.73 269.87 L167.85 274.76 L165.98 280.00 L164.10 285.53 L162.22 291.28 L160.34 297.18 L158.46 303.12 L156.58 309.02 L154.70 314.77 L152.82 320.30 L150.95 325.54 L149.07 330.43 L147.19 334.93 L145.31 339.03 L143.43 342.71 L141.55 346.00 L139.67 348.90 L137.80 351.44 L135.92 353.65 L134.04 355.57 L132.16 357.21 L130.28 358.62 L128.40 359.82 L126.52 360.84 L124.64 361.71 L122.77 362.44 L120.89 363.06 L119.01 363.58 L117.13 364.02 L115.25 364.39 L113.37 364.70 L111.49 364.96 L109.62 365.18 L107.74 365.36 L105.86 365.52 L103.98 365.65 L102.10 365.75 L100.22 365.84 L98.34 365.92 L96.47 365.98 L94.59 366.03 L92.71 366.08 L90.83 366.11 L88.95 366.14 L87.07 366.17 L85.19 366.19 L83.31 366.21 L81.44 366.22 L79.56 366.24 L77.68 366.25 L75.80 366.26Z" fill="rgba(115,165,175,0.50)"/>
<path d="M75.80 366.30 L77.68 366.29 L79.56 366.29 L81.44 366.29 L83.31 366.29 L85.19 366.29 L87.07 366.29 L88.95 366.28 L90.83 366.28 L92.71 366.28 L94.59 366.27 L96.47 366.27 L98.34 366.26 L100.22 366.25 L102.10 366.24 L103.98 366.23 L105.86 366.22 L107.74 366.20 L109.62 366.19 L111.49 366.16 L113.37 366.14 L115.25 366.11 L117.13 366.07 L119.01 366.02 L120.89 365.97 L122.77 365.91 L124.64 365.83 L126.52 365.74 L128.40 365.64 L130.28 365.52 L132.16 365.37 L134.04 365.20 L135.92 365.01 L137.80 364.78 L139.67 364.52 L141.55 364.23 L143.43 363.89 L145.31 363.52 L147.19 363.10 L149.07 362.64 L150.95 362.14 L152.82 361.61 L154.70 361.04 L156.58 360.45 L158.46 359.85 L160.34 359.25 L162.22 358.65 L164.10 358.06 L165.98 357.49 L167.85 356.96 L169.73 356.46 L171.61 356.00 L173.49 355.58 L175.37 355.21 L177.25 354.87 L179.13 354.58 L181.00 354.32 L182.88 354.09 L184.76 353.90 L186.64 353.73 L188.52 353.58 L190.40 353.46 L192.28 353.36 L194.16 353.27 L196.03 353.19 L197.91 353.13 L199.79 353.08 L201.67 353.03 L203.55 352.99 L205.43 352.96 L207.31 352.94 L209.18 352.91 L211.06 352.90 L212.94 352.88 L214.82 352.87 L216.70 352.86 L218.58 352.85 L220.46 352.84 L222.33 352.83 L224.21 352.83 L226.09 352.82 L227.97 352.82 L229.85 352.82 L231.73 352.81 L233.61 352.81 L235.49 352.81 L237.36 352.81 L239.24 352.81 L241.12 352.81 L243.00 352.80 L243.00 353.90 L241.12 353.91 L239.24 353.91 L237.36 353.91 L235.49 353.91 L233.61 353.91 L231.73 353.91 L229.85 353.92 L227.97 353.92 L226.09 353.92 L224.21 353.93 L222.33 353.93 L220.46 353.94 L218.58 353.95 L216.70 353.95 L214.82 353.96 L212.94 353.98 L211.06 353.99 L209.18 354.01 L207.31 354.03 L205.43 354.06 L203.55 354.09 L201.67 354.13 L199.79 354.17 L197.91 354.22 L196.03 354.28 L194.16 354.35 L192.28 354.44 L190.40 354.54 L188.52 354.66 L186.64 354.80 L184.76 354.96 L182.88 355.15 L181.00 355.37 L179.13 355.62 L177.25 355.91 L175.37 356.24 L173.49 356.60 L171.61 357.01 L169.73 357.45 L167.85 357.94 L165.98 358.45 L164.10 359.00 L162.22 359.57 L160.34 360.16 L158.46 360.74 L156.58 361.33 L154.70 361.90 L152.82 362.45 L150.95 362.96 L149.07 363.45 L147.19 363.89 L145.31 364.30 L143.43 364.66 L141.55 364.99 L139.67 365.28 L137.80 365.53 L135.92 365.75 L134.04 365.94 L132.16 366.10 L130.28 366.24 L128.40 366.36 L126.52 366.46 L124.64 366.55 L122.77 366.62 L120.89 366.68 L119.01 366.73 L117.13 366.77 L115.25 366.81 L113.37 366.84 L111.49 366.87 L109.62 366.89 L107.74 366.91 L105.86 366.92 L103.98 366.94 L102.10 366.95 L100.22 366.95 L98.34 366.96 L96.47 366.97 L94.59 366.97 L92.71 366.98 L90.83 366.98 L88.95 366.98 L87.07 366.99 L85.19 366.99 L83.31 366.99 L81.44 366.99 L79.56 366.99 L77.68 366.99 L75.80 367.00Z" fill="rgba(115,165,175,0.50)"/>
<path d="M75.80 400.14 L77.68 400.13 L79.56 400.12 L81.44 400.10 L83.31 400.09 L85.19 400.06 L87.07 400.04 L88.95 400.00 L90.83 399.97 L92.71 399.92 L94.59 399.86 L96.47 399.80 L98.34 399.72 L100.22 399.62 L102.10 399.51 L103.98 399.38 L105.86 399.22 L107.74 399.02 L109.62 398.79 L111.49 398.52 L113.37 398.19 L115.25 397.80 L117.13 397.34 L119.01 396.79 L120.89 396.13 L122.77 395.35 L124.64 394.43 L126.52 393.34 L128.40 392.06 L130.28 390.55 L132.16 388.78 L134.04 386.71 L135.92 384.31 L137.80 381.54 L139.67 378.34 L141.55 374.70 L143.43 370.57 L145.31 365.94 L147.19 360.79 L149.07 355.13 L150.95 348.99 L152.82 342.41 L154.70 335.47 L156.58 328.24 L158.46 320.83 L160.34 313.37 L162.22 305.96 L164.10 298.73 L165.98 291.79 L167.85 285.21 L169.73 279.07 L171.61 273.41 L173.49 268.26 L175.37 263.63 L177.25 259.50 L179.13 255.86 L181.00 252.66 L182.88 249.89 L184.76 247.49 L186.64 245.42 L188.52 243.65 L190.40 242.14 L192.28 240.86 L194.16 239.77 L196.03 238.85 L197.91 238.07 L199.79 237.41 L201.67 236.86 L203.55 236.40 L205.43 236.01 L207.31 235.68 L209.18 235.41 L211.06 235.18 L212.94 234.98 L214.82 234.82 L216.70 234.69 L218.58 234.58 L220.46 234.48 L222.33 234.40 L224.21 234.34 L226.09 234.28 L227.97 234.23 L229.85 234.20 L231.73 234.16 L233.61 234.14 L235.49 234.11 L237.36 234.10 L239.24 234.08 L241.12 234.07 L243.00 234.06 L243.00 235.26 L241.12 235.27 L239.24 235.28 L237.36 235.30 L235.49 235.31 L233.61 235.34 L231.73 235.36 L229.85 235.40 L227.97 235.43 L226.09 235.48 L224.21 235.54 L222.33 235.60 L220.46 235.68 L218.58 235.78 L216.70 235.89 L214.82 236.02 L212.94 236.18 L211.06 236.38 L209.18 236.61 L207.31 236.88 L205.43 237.21 L203.55 237.60 L201.67 238.06 L199.79 238.61 L197.91 239.27 L196.03 240.05 L194.16 240.97 L192.28 242.06 L190.40 243.34 L188.52 244.85 L186.64 246.62 L184.76 248.69 L182.88 251.09 L181.00 253.86 L179.13 257.06 L177.25 260.70 L175.37 264.83 L173.49 269.46 L171.61 274.61 L169.73 280.27 L167.85 286.41 L165.98 292.99 L164.10 299.93 L162.22 307.16 L160.34 314.57 L158.46 322.03 L156.58 329.44 L154.70 336.67 L152.82 343.61 L150.95 350.19 L149.07 356.33 L147.19 361.99 L145.31 367.14 L143.43 371.77 L141.55 375.90 L139.67 379.54 L137.80 382.74 L135.92 385.51 L134.04 387.91 L132.16 389.98 L130.28 391.75 L128.40 393.26 L126.52 394.54 L124.64 395.63 L122.77 396.55 L120.89 397.33 L119.01 397.99 L117.13 398.54 L115.25 399.00 L113.37 399.39 L111.49 399.72 L109.62 399.99 L107.74 400.22 L105.86 400.42 L103.98 400.58 L102.10 400.71 L100.22 400.82 L98.34 400.92 L96.47 401.00 L94.59 401.06 L92.71 401.12 L90.83 401.17 L88.95 401.20 L87.07 401.24 L85.19 401.26 L83.31 401.29 L81.44 401.30 L79.56 401.32 L77.68 401.33 L75.80 401.34Z" fill="rgba(115,165,175,0.50)"/>
<path d="M75.80 401.34 L77.68 401.33 L79.56 401.32 L81.44 401.30 L83.31 401.29 L85.19 401.26 L87.07 401.24 L88.95 401.20 L90.83 401.17 L92.71 401.12 L94.59 401.06 L96.47 401.00 L98.34 400.92 L100.22 400.82 L102.10 400.71 L103.98 400.58 L105.86 400.42 L107.74 400.22 L109.62 399.99 L111.49 399.72 L113.37 399.39 L115.25 399.00 L117.13 398.54 L119.01 397.99 L120.89 397.33 L122.77 396.55 L124.64 395.63 L126.52 394.54 L128.40 393.26 L130.28 391.75 L132.16 389.98 L134.04 387.91 L135.92 385.51 L137.80 382.74 L139.67 379.54 L141.55 375.90 L143.43 371.77 L145.31 367.14 L147.19 361.99 L149.07 356.33 L150.95 350.19 L152.82 343.61 L154.70 336.67 L156.58 329.44 L158.46 322.03 L160.34 314.57 L162.22 307.16 L164.10 299.93 L165.98 292.99 L167.85 286.41 L169.73 280.27 L171.61 274.61 L173.49 269.46 L175.37 264.83 L177.25 260.70 L179.13 257.06 L181.00 253.86 L182.88 251.09 L184.76 248.69 L186.64 246.62 L188.52 244.85 L190.40 243.34 L192.28 242.06 L194.16 240.97 L196.03 240.05 L197.91 239.27 L199.79 238.61 L201.67 238.06 L203.55 237.60 L205.43 237.21 L207.31 236.88 L209.18 236.61 L211.06 236.38 L212.94 236.18 L214.82 236.02 L216.70 235.89 L218.58 235.78 L220.46 235.68 L222.33 235.60 L224.21 235.54 L226.09 235.48 L227.97 235.43 L229.85 235.40 L231.73 235.36 L233.61 235.34 L235.49 235.31 L237.36 235.30 L239.24 235.28 L241.12 235.27 L243.00 235.26 L243.00 236.46 L241.12 236.47 L239.24 236.48 L237.36 236.50 L235.49 236.51 L233.61 236.54 L231.73 236.56 L229.85 236.60 L227.97 236.63 L226.09 236.68 L224.21 236.74 L222.33 236.80 L220.46 236.88 L218.58 236.98 L216.70 237.09 L214.82 237.22 L212.94 237.38 L211.06 237.58 L209.18 237.81 L207.31 238.08 L205.43 238.41 L203.55 238.80 L201.67 239.26 L199.79 239.81 L197.91 240.47 L196.03 241.25 L194.16 242.17 L192.28 243.26 L190.40 244.54 L188.52 246.05 L186.64 247.82 L184.76 249.89 L182.88 252.29 L181.00 255.06 L179.13 258.26 L177.25 261.90 L175.37 266.03 L173.49 270.66 L171.61 275.81 L169.73 281.47 L167.85 287.61 L165.98 294.19 L164.10 301.13 L162.22 308.36 L160.34 315.77 L158.46 323.23 L156.58 330.64 L154.70 337.87 L152.82 344.81 L150.95 351.39 L149.07 357.53 L147.19 363.19 L145.31 368.34 L143.43 372.97 L141.55 377.10 L139.67 380.74 L137.80 383.94 L135.92 386.71 L134.04 389.11 L132.16 391.18 L130.28 392.95 L128.40 394.46 L126.52 395.74 L124.64 396.83 L122.77 397.75 L120.89 398.53 L119.01 399.19 L117.13 399.74 L115.25 400.20 L113.37 400.59 L111.49 400.92 L109.62 401.19 L107.74 401.42 L105.86 401.62 L103.98 401.78 L102.10 401.91 L100.22 402.02 L98.34 402.12 L96.47 402.20 L94.59 402.26 L92.71 402.32 L90.83 402.37 L88.95 402.40 L87.07 402.44 L85.19 402.46 L83.31 402.49 L81.44 402.50 L79.56 402.52 L77.68 402.53 L75.80 402.54Z" fill="rgba(115,165,175,0.50)"/>
<path d="M75.80 402.54 L77.68 402.53 L79.56 402.52 L81.44 402.50 L83.31 402.49 L85.19 402.46 L87.07 402.44 L88.95 402.40 L90.83 402.37 L92.71 402.32 L94.59 402.26 L96.47 402.20 L98.34 402.12 L100.22 402.02 L102.10 401.91 L103.98 401.78 L105.86 401.62 L107.74 401.42 L109.62 401.19 L111.49 400.92 L113.37 400.59 L115.25 400.20 L117.13 399.74 L119.01 399.19 L120.89 398.53 L122.77 397.75 L124.64 396.83 L126.52 395.74 L128.40 394.46 L130.28 392.95 L132.16 391.18 L134.04 389.11 L135.92 386.71 L137.80 383.94 L139.67 380.74 L141.55 377.10 L143.43 372.97 L145.31 368.34 L147.19 363.19 L149.07 357.53 L150.95 351.39 L152.82 344.81 L154.70 337.87 L156.58 330.64 L158.46 323.23 L160.34 315.77 L162.22 308.36 L164.10 301.13 L165.98 294.19 L167.85 287.61 L169.73 281.47 L171.61 275.81 L173.49 270.66 L175.37 266.03 L177.25 261.90 L179.13 258.26 L181.00 255.06 L182.88 252.29 L184.76 249.89 L186.64 247.82 L188.52 246.05 L190.40 244.54 L192.28 243.26 L194.16 242.17 L196.03 241.25 L197.91 240.47 L199.79 239.81 L201.67 239.26 L203.55 238.80 L205.43 238.41 L207.31 238.08 L209.18 237.81 L211.06 237.58 L212.94 237.38 L214.82 237.22 L216.70 237.09 L218.58 236.98 L220.46 236.88 L222.33 236.80 L224.21 236.74 L226.09 236.68 L227.97 236.63 L229.85 236.60 L231.73 236.56 L233.61 236.54 L235.49 236.51 L237.36 236.50 L239.24 236.48 L241.12 236.47 L243.00 236.46 L243.00 237.56 L241.12 237.57 L239.24 237.58 L237.36 237.60 L235.49 237.61 L233.61 237.64 L231.73 237.66 L229.85 237.70 L227.97 237.73 L226.09 237.78 L224.21 237.84 L222.33 237.90 L220.46 237.98 L218.58 238.08 L216.70 238.19 L214.82 238.32 L212.94 238.48 L211.06 238.68 L209.18 238.91 L207.31 239.18 L205.43 239.51 L203.55 239.90 L201.67 240.36 L199.79 240.91 L197.91 241.57 L196.03 242.35 L194.16 243.27 L192.28 244.36 L190.40 245.64 L188.52 247.15 L186.64 248.92 L184.76 250.99 L182.88 253.39 L181.00 256.16 L179.13 259.36 L177.25 263.00 L175.37 267.13 L173.49 271.76 L171.61 276.91 L169.73 282.57 L167.85 288.71 L165.98 295.29 L164.10 302.23 L162.22 309.46 L160.34 316.87 L158.46 324.33 L156.58 331.74 L154.70 338.97 L152.82 345.91 L150.95 352.49 L149.07 358.63 L147.19 364.29 L145.31 369.44 L143.43 374.07 L141.55 378.20 L139.67 381.84 L137.80 385.04 L135.92 387.81 L134.04 390.21 L132.16 392.28 L130.28 394.05 L128.40 395.56 L126.52 396.84 L124.64 397.93 L122.77 398.85 L120.89 399.63 L119.01 400.29 L117.13 400.84 L115.25 401.30 L113.37 401.69 L111.49 402.02 L109.62 402.29 L107.74 402.52 L105.86 402.72 L103.98 402.88 L102.10 403.01 L100.22 403.12 L98.34 403.22 L96.47 403.30 L94.59 403.36 L92.71 403.42 L90.83 403.47 L88.95 403.50 L87.07 403.54 L85.19 403.56 L83.31 403.59 L81.44 403.60 L79.56 403.62 L77.68 403.63 L75.80 403.64Z" fill="rgba(115,165,175,0.50)"/>
<path d="M75.80 403.70 L77.68 403.70 L79.56 403.70 L81.44 403.70 L83.31 403.70 L85.19 403.70 L87.07 403.70 L88.95 403.70 L90.83 403.70 L92.71 403.70 L94.59 403.70 L96.47 403.70 L98.34 403.70 L100.22 403.70 L102.10 403.70 L103.98 403.70 L105.86 403.70 L107.74 403.70 L109.62 403.70 L111.49 403.70 L113.37 403.70 L115.25 403.70 L117.13 403.70 L119.01 403.70 L120.89 403.70 L122.77 403.70 L124.64 403.70 L126.52 403.70 L128.40 403.70 L130.28 403.71 L132.16 403.71 L134.04 403.71 L135.92 403.71 L137.80 403.71 L139.67 403.71 L141.55 403.72 L143.43 403.72 L145.31 403.72 L147.19 403.72 L149.07 403.73 L150.95 403.73 L152.82 403.73 L154.70 403.74 L156.58 403.74 L158.46 403.75 L160.34 403.75 L162.22 403.76 L164.10 403.76 L165.98 403.77 L167.85 403.77 L169.73 403.77 L171.61 403.78 L173.49 403.78 L175.37 403.78 L177.25 403.78 L179.13 403.79 L181.00 403.79 L182.88 403.79 L184.76 403.79 L186.64 403.79 L188.52 403.79 L190.40 403.80 L192.28 403.80 L194.16 403.80 L196.03 403.80 L197.91 403.80 L199.79 403.80 L201.67 403.80 L203.55 403.80 L205.43 403.80 L207.31 403.80 L209.18 403.80 L211.06 403.80 L212.94 403.80 L214.82 403.80 L216.70 403.80 L218.58 403.80 L220.46 403.80 L222.33 403.80 L224.21 403.80 L226.09 403.80 L227.97 403.80 L229.85 403.80 L231.73 403.80 L233.61 403.80 L235.49 403.80 L237.36 403.80 L239.24 403.80 L241.12 403.80 L243.00 403.80 L243.00 450.50 L241.12 450.50 L239.24 450.50 L237.36 450.50 L235.49 450.50 L233.61 450.50 L231.73 450.50 L229.85 450.50 L227.97 450.50 L226.09 450.50 L224.21 450.50 L222.33 450.50 L220.46 450.50 L218.58 450.50 L216.70 450.50 L214.82 450.50 L212.94 450.50 L211.06 450.50 L209.18 450.50 L207.31 450.50 L205.43 450.50 L203.55 450.50 L201.67 450.50 L199.79 450.50 L197.91 450.50 L196.03 450.50 L194.16 450.50 L192.28 450.50 L190.40 450.50 L188.52 450.50 L186.64 450.50 L184.76 450.50 L182.88 450.50 L181.00 450.50 L179.13 450.50 L177.25 450.50 L175.37 450.50 L173.49 450.50 L171.61 450.50 L169.73 450.50 L167.85 450.50 L165.98 450.50 L164.10 450.50 L162.22 450.50 L160.34 450.50 L158.46 450.50 L156.58 450.50 L154.70 450.50 L152.82 450.50 L150.95 450.50 L149.07 450.50 L147.19 450.50 L145.31 450.50 L143.43 450.50 L141.55 450.50 L139.67 450.50 L137.80 450.50 L135.92 450.50 L134.04 450.50 L132.16 450.50 L130.28 450.50 L128.40 450.50 L126.52 450.50 L124.64 450.50 L122.77 450.50 L120.89 450.50 L119.01 450.50 L117.13 450.50 L115.25 450.50 L113.37 450.50 L111.49 450.50 L109.62 450.50 L107.74 450.50 L105.86 450.50 L103.98 450.50 L102.10 450.50 L100.22 450.50 L98.34 450.50 L96.47 450.50 L94.59 450.50 L92.71 450.50 L90.83 450.50 L88.95 450.50 L87.07 450.50 L85.19 450.50 L83.31 450.50 L81.44 450.50 L79.56 450.50 L77.68 450.50 L75.80 450.50Z" fill="rgba(115,165,175,0.50)"/>
<rect x="55.3" y="55.0" width="19.0" height="128.1" fill="#F18C04"/>
<rect x="55.3" y="251.2" width="19.0" height="81.3" fill="#F18C04"/>
<rect x="55.3" y="400.2" width="19.0" height="50.3" fill="#F18C04"/>
<rect x="245.6" y="55.0" width="19.2" height="182.5" fill="#0E4C80"/>
<rect x="245.6" y="387.0" width="19.2" height="63.5" fill="#0E4C80"/>
<rect x="49.2" y="113.3" width="31.6" height="12.2" rx="2" ry="2" fill="#fff" stroke="#2b2b2b" stroke-width="1.1"/>
<text x="65.0" y="123.0" font-size="10" text-anchor="middle" fill="#161616">Tier 5</text>
<rect x="49.2" y="211.3" width="31.6" height="12.2" rx="2" ry="2" fill="#fff" stroke="#2b2b2b" stroke-width="1.1"/>
<text x="65.0" y="221.0" font-size="10" text-anchor="middle" fill="#161616">Tier 4</text>
<rect x="49.2" y="285.8" width="31.6" height="12.2" rx="2" ry="2" fill="#fff" stroke="#2b2b2b" stroke-width="1.1"/>
<text x="65.0" y="295.5" font-size="10" text-anchor="middle" fill="#161616">Tier 3</text>
<rect x="49.2" y="360.1" width="31.6" height="12.2" rx="2" ry="2" fill="#fff" stroke="#2b2b2b" stroke-width="1.1"/>
<text x="65.0" y="369.8" font-size="10" text-anchor="middle" fill="#161616">Tier 2</text>
<rect x="49.2" y="419.3" width="31.6" height="12.2" rx="2" ry="2" fill="#fff" stroke="#2b2b2b" stroke-width="1.1"/>
<text x="65.0" y="429.0" font-size="10" text-anchor="middle" fill="#161616">Tier 1</text>
<rect x="239.4" y="140.3" width="31.6" height="12.2" rx="2" ry="2" fill="#fff" stroke="#2b2b2b" stroke-width="1.1"/>
<text x="255.2" y="150.0" font-size="10" text-anchor="middle" fill="#161616">Tier 5</text>
<rect x="239.4" y="266.1" width="31.6" height="12.2" rx="2" ry="2" fill="#fff" stroke="#2b2b2b" stroke-width="1.1"/>
<text x="255.2" y="275.8" font-size="10" text-anchor="middle" fill="#161616">Tier 4</text>
<rect x="239.4" y="303.2" width="31.6" height="12.2" rx="2" ry="2" fill="#fff" stroke="#2b2b2b" stroke-width="1.1"/>
<text x="255.2" y="312.9" font-size="10" text-anchor="middle" fill="#161616">Tier 3</text>
<rect x="239.4" y="343.1" width="31.6" height="12.2" rx="2" ry="2" fill="#fff" stroke="#2b2b2b" stroke-width="1.1"/>
<text x="255.2" y="352.8" font-size="10" text-anchor="middle" fill="#161616">Tier 2</text>
<rect x="239.4" y="412.8" width="31.6" height="12.2" rx="2" ry="2" fill="#fff" stroke="#2b2b2b" stroke-width="1.1"/>
<text x="255.2" y="422.5" font-size="10" text-anchor="middle" fill="#161616">Tier 1</text>
<text x="64.8" y="44.7" font-size="12.2" text-anchor="middle" fill="#222">CBA</text>
<text x="255.1" y="44.7" font-size="12.2" text-anchor="middle" fill="#222">AMP</text>
</g>
<g id="sunburst">
<path d="M301.78 520.92 A176.37 177.25 0 1 1 101.65 662.89 L140.80 671.42 A136.74 137.42 0 1 0 296.72 560.81 Z" fill="#ECF2CE"/>
<path d="M277.79 518.87 A176.37 177.25 0 0 1 296.05 520.13 L290.99 560.02 A136.74 137.42 0 0 0 278.13 559.14 Z" fill="#C0E0D0"/>
<path d="M102.83 657.20 A176.37 177.25 0 0 1 117.00 617.14 L152.53 635.90 A136.74 137.42 0 0 0 141.98 665.73 Z" fill="#D7DCF0"/>
<path d="M119.66 611.98 A176.37 177.25 0 0 1 129.16 596.27 L161.88 619.67 A136.74 137.42 0 0 0 155.19 630.74 Z" fill="#F8D0E5"/>
<path d="M132.50 591.52 A176.37 177.25 0 0 1 180.80 546.18 L201.74 580.65 A136.74 137.42 0 0 0 165.22 614.92 Z" fill="#FCD3B4"/>
<path d="M185.74 543.16 A176.37 177.25 0 0 1 272.01 518.87 L272.35 559.14 A136.74 137.42 0 0 0 206.68 577.63 Z" fill="#FDF4B5"/>
<path d="M278.18 565.11 A130.86 131.51 0 1 1 225.82 818.35 L241.53 783.19 A92.27 92.74 0 1 0 278.51 604.32 Z" fill="#BDC0D8"/>
<path d="M220.52 816.03 A130.86 131.51 0 0 1 166.74 623.15 L198.60 645.93 A92.27 92.74 0 0 0 236.22 780.87 Z" fill="#BDC0D8"/>
<path d="M170.08 618.40 A130.86 131.51 0 0 1 254.61 566.73 L260.19 605.58 A92.27 92.74 0 0 0 201.94 641.19 Z" fill="#FCDDBC"/>
<path d="M260.34 565.94 A130.86 131.51 0 0 1 272.40 565.11 L272.73 604.32 A92.27 92.74 0 0 0 265.92 604.79 Z" fill="#FCDDBC"/>
<path d="M278.56 610.35 A86.34 86.77 0 1 1 203.50 649.44 L235.72 672.48 A47.36 47.59 0 1 0 278.89 649.99 Z" fill="#0E4C80"/>
<path d="M206.84 644.69 A86.34 86.77 0 0 1 272.78 610.35 L273.11 649.99 A47.36 47.59 0 0 0 239.05 667.73 Z" fill="#F18C04"/>
<text transform="translate(244.30 641.71) rotate(-29.7)" dy="0" font-size="12.5" text-anchor="middle" dominant-baseline="central" fill="#2a1300" font-weight="normal">CBA</text>
<text transform="translate(296.91 760.58) rotate(-18.5)" dy="0" font-size="12.5" text-anchor="middle" dominant-baseline="central" fill="#fff" font-weight="normal">AMP</text>
<text transform="translate(220.36 603.53) rotate(-30.7)" dy="0" font-size="12.5" text-anchor="middle" dominant-baseline="central" fill="#111" font-weight="normal">Tier 1</text>
<text transform="translate(268.32 585.82) rotate(-3.7)" dy="0" font-size="12.5" text-anchor="middle" dominant-baseline="central" fill="#111" font-weight="normal">2</text>
<text transform="translate(382.52 731.34) rotate(-63.0)" dy="0" font-size="12.5" text-anchor="middle" dominant-baseline="central" fill="#111" font-weight="normal">Tier 1</text>
<text transform="translate(166.95 725.00) rotate(84.5)" dy="0" font-size="12.5" text-anchor="middle" dominant-baseline="central" fill="#111" font-weight="normal">Tier 2</text>
<text transform="translate(285.41 544.52) rotate(3.9)" dy="0.6" font-size="9.6" text-anchor="middle" dominant-baseline="central" fill="#111" font-weight="bold">1</text>
<text transform="translate(286.23 530.68) rotate(3.9)" dy="0.6" font-size="7.6" text-anchor="middle" dominant-baseline="central" fill="#8d8d8d" font-weight="normal">2%</text>
<text transform="translate(232.61 550.28) rotate(-16.3)" dy="0.6" font-size="10" text-anchor="middle" dominant-baseline="central" fill="#111" font-weight="bold">4</text>
<text transform="translate(228.66 536.96) rotate(-16.3)" dy="0.6" font-size="7.9" text-anchor="middle" dominant-baseline="central" fill="#8d8d8d" font-weight="normal">9%</text>
<text transform="translate(171.25 585.60) rotate(-43.3)" dy="0.6" font-size="10" text-anchor="middle" dominant-baseline="central" fill="#111" font-weight="bold">3</text>
<text transform="translate(161.77 575.46) rotate(-43.3)" dy="0.6" font-size="7.8" text-anchor="middle" dominant-baseline="central" fill="#8d8d8d" font-weight="normal">7%</text>
<text transform="translate(145.57 617.52) rotate(-58.8)" dy="0.6" font-size="9.6" text-anchor="middle" dominant-baseline="central" fill="#111" font-weight="bold">1</text>
<text transform="translate(133.77 610.27) rotate(-58.8)" dy="0.6" font-size="7.6" text-anchor="middle" dominant-baseline="central" fill="#8d8d8d" font-weight="normal">2%</text>
<text transform="translate(132.53 645.06) rotate(-70.3)" dy="0.6" font-size="10" text-anchor="middle" dominant-baseline="central" fill="#111" font-weight="bold">2</text>
<text transform="translate(119.56 640.29) rotate(-70.3)" dy="0.6" font-size="7.8" text-anchor="middle" dominant-baseline="central" fill="#8d8d8d" font-weight="normal">5%</text>
<text transform="translate(362.33 822.97) rotate(-34.7)" dy="0.6" font-size="10.9" text-anchor="middle" dominant-baseline="central" fill="#111" font-weight="normal" stroke="#111" stroke-width="0.45">35</text>
<text transform="translate(369.74 832.72) rotate(-34.9)" dy="0.6" font-size="9.5" text-anchor="middle" dominant-baseline="central" fill="#8d8d8d" font-weight="normal">80%</text>
</g>
<g id="legend" font-size="9.7" fill="#222">
<text x="37.4" y="904.5">Reason for discrepancy</text>
<rect x="35.8" y="914.8" width="7" height="12.0" fill="#E3EFBA"/>
<rect x="35.8" y="931.8" width="7" height="11.8" fill="#FBC9A6"/>
<text x="48.3" y="924.0" textLength="96.5" lengthAdjust="spacingAndGlyphs">Cytogenetically cryptic</text>
<text x="48.3" y="940.6" textLength="33.5" lengthAdjust="spacingAndGlyphs">Mimicry</text>
<rect x="167.9" y="914.8" width="7" height="12.0" fill="#FDF0A8"/>
<rect x="167.9" y="931.8" width="7" height="11.8" fill="#F5C6DE"/>
<text x="181.0" y="924.0" textLength="104.2" lengthAdjust="spacingAndGlyphs">No chimeric RNA fusion</text>
<text x="181.0" y="940.6" textLength="111.4" lengthAdjust="spacingAndGlyphs">No metaphases observed</text>
<rect x="315.8" y="914.8" width="7" height="12.0" fill="#CFD5EC"/>
<rect x="315.8" y="931.8" width="7" height="11.8" fill="#B7DFCD"/>
<text x="328.7" y="924.0" textLength="180.0" lengthAdjust="spacingAndGlyphs">Outgrowth of non−neoplastic component</text>
<text x="328.7" y="940.6" textLength="177.0" lengthAdjust="spacingAndGlyphs">Sensitivity limit of CBA in setting of MRD</text>
</g>
<text x="11.0" y="23.7" font-size="17.6" font-weight="bold" fill="#111" stroke="#111" stroke-width="0.5" textLength="12.9" lengthAdjust="spacingAndGlyphs">A</text>
<text x="10.7" y="491.0" font-size="17.6" font-weight="bold" fill="#111" stroke="#111" stroke-width="0.5" textLength="13.2" lengthAdjust="spacingAndGlyphs">B</text>
</svg>
<div id="frame"></div>
</body></html>
